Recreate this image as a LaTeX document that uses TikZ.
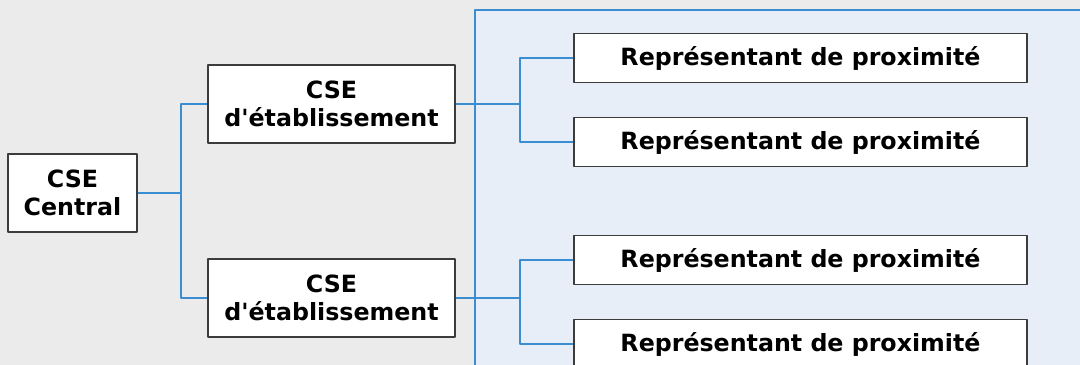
\documentclass[tikz,border=0pt]{standalone}
\usepackage{fontspec}
\setmainfont{DejaVu Sans}[Ligatures=TeXOff]
\definecolor{bggray}{HTML}{EBEBEB}
\definecolor{panelblue}{HTML}{E7EEF8}
\definecolor{linkblue}{HTML}{3A8DD0}
\definecolor{boxline}{HTML}{3C3C3C}
\begin{document}
\begin{tikzpicture}[x=0.02cm, y=-0.02cm, line join=round,
	font=\fontsize{13.5}{16}\selectfont\bfseries,
	box/.style={draw=boxline, line width=0.8pt, fill=white, align=center, inner sep=0pt},
	cse/.style={box, minimum width=4.94cm, minimum height=1.56cm},
	rep/.style={box, minimum width=9.06cm, minimum height=0.98cm},
	link/.style={draw=linkblue, line width=1.2pt}]
		\clip (0,0) rectangle (1080,365);
		\fill[bggray] (0,0) rectangle (1080,365);
		\fill[panelblue] (475,10) rectangle (1090,375);
		\draw[linkblue, line width=1.4pt] (475,375)--(475,10)--(1090,10);
		\node[box, minimum width=2.58cm, minimum height=1.56cm] (central) at (72.5,193) {CSE\\Central};
		\node[cse] (etab1) at (331.5,104) {CSE\\d'établissement};
		\node[cse] (etab2) at (331.5,298) {CSE\\d'établissement};
		\node[rep] (rep1) at (800.5,58) {Représentant de proximité};
		\node[rep] (rep2) at (800.5,142) {Représentant de proximité};
		\node[rep] (rep3) at (800.5,260) {Représentant de proximité};
		\node[rep] (rep4) at (800.5,344) {Représentant de proximité};
		\coordinate (j0) at (181,193);
		\coordinate (j1) at (520,104);
		\coordinate (j2) at (520,298);
		\draw[link] (central) -- (j0) |- (etab1) (j0) |- (etab2);
		\draw[link] (etab1) -- (j1) |- (rep1) (j1) |- (rep2);
		\draw[link] (etab2) -- (j2) |- (rep3) (j2) |- (rep4);
\end{tikzpicture}
\end{document}
